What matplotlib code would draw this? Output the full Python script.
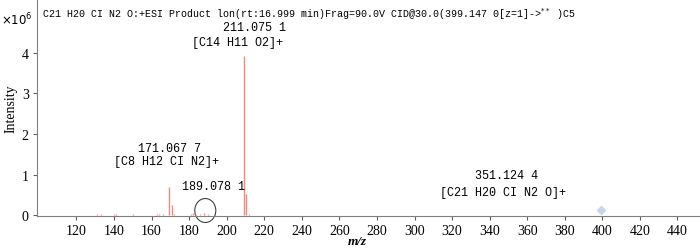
"""
MS/MS product ion spectrum (C21 H20 Cl N2 O, CID 30 V)
"""

import matplotlib

matplotlib.use("Agg")
import matplotlib.pyplot as plt
from matplotlib.patches import Ellipse

# Peaks (m/z, intensity in 1e6 counts)
mz = [103, 106, 109, 113, 116, 118, 125, 127, 129, 131, 133, 135, 138, 140, 141,
      143, 145, 150, 152, 155, 163, 164, 166, 169.1, 170.7, 172.2, 181, 182, 183,
      186, 188, 190, 192, 209.3, 210.5, 212, 352, 354, 370, 372]
intensity = [0.01, 0.008, 0.01, 0.008, 0.012, 0.01, 0.01, 0.012, 0.015, 0.02, 0.018,
             0.015, 0.012, 0.04, 0.025, 0.015, 0.012, 0.02, 0.015, 0.015, 0.035, 0.03,
             0.02, 0.70, 0.24, 0.02, 0.035, 0.045, 0.03, 0.02, 0.06, 0.02, 0.015,
             3.92, 0.51, 0.02, 0.008, 0.006, 0.008, 0.006]

# Precursor marker
precursor_mz = 399.1
precursor_y = 0.12

# Annotations (text, m/z, y)
labels = ["211.075 1", "[C14 H11 O2]+", "171.067 7", "[C8 H12 CI N2]+",
          "189.078 1", "351.124 4", "[C21 H20 CI N2 O]+"]
label_x = [214.9, 205.9, 169.4, 167.8, 192.8, 348.8, 347.1]
label_y = [4.64, 4.27, 1.66, 1.34, 0.71, 0.98, 0.58]

title = "C21 H20 CI N2 O:+ESI Product lon(rt:16.999 min)Frag=90.0V CID@30.0(399.147 0[z=1]->$^{**}$ )C5"

xticks = list(range(120, 441, 20))
yticks = [0, 1, 2, 3, 4]

fig = plt.figure(figsize=(7.0, 2.53), dpi=100)
ax = fig.add_axes([37 / 700, 36 / 253, 663 / 700, 217 / 253])

ax.vlines(mz, 0, intensity, color="#f08a7a", linewidth=1.0)
ax.plot(precursor_mz, precursor_y, "D", color="#c9d5ea", markersize=4, clip_on=False)

# circle around the 189 ion
ax.add_patch(Ellipse((188.6, 0.115), 11.2, 0.59, fill=False, edgecolor="#404040",
                     linewidth=0.8, clip_on=False))

for txt, x, y in zip(labels, label_x, label_y):
    ax.text(x, y, txt, ha="center", va="center", fontsize=8.5, family="Liberation Mono")

ax.text(5 / 663, 1 - 14 / 217, title, transform=ax.transAxes, ha="left", va="center",
        fontsize=7.2, family="Liberation Mono")

fig.text(0.002, 1 - 20 / 253, r"$\times10^6$", ha="left", va="center", fontsize=8.5)

ax.set_xlim(99, 452)
ax.set_ylim(-0.02, 5.32)
ax.set_xticks(xticks)
ax.set_yticks(yticks)
ax.tick_params(direction="out", length=3, width=0.8, color="#606060", labelsize=10, pad=3)
for lab in ax.get_xticklabels() + ax.get_yticklabels():
    lab.set_family("Liberation Serif")

for side in ["top", "right"]:
    ax.spines[side].set_visible(False)
for side in ["left", "bottom"]:
    ax.spines[side].set_color("#808080")
    ax.spines[side].set_linewidth(0.8)

ax.set_ylabel("Intensity", fontsize=10, family="Liberation Serif", labelpad=3)
# x label placed by hand so it stays inside the small figure
fig.text(357 / 700, 1 - 242 / 253, "m/z", ha="center", va="center", fontsize=9.5,
         family="Liberation Serif", style="italic", fontweight="bold")

fig.savefig("out.png", dpi=100)
